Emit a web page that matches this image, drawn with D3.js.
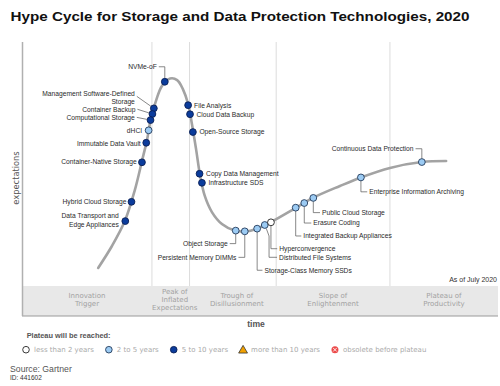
<!DOCTYPE html>
<html>
<head>
<meta charset="utf-8">
<script src="https://cdn.jsdelivr.net/npm/d3@7"></script>
<style>
  body { margin: 0; background: #fff; }
  svg { display: block; font-family: "Liberation Sans", Arial, sans-serif; }
</style>
</head>
<body>
<svg id="chart"></svg>
<script>
// ---- data (time 0-100, expectations 0-100) ----
const chartTitle = 'Hype Cycle for Storage and Data Protection Technologies, 2020';

const techNames = [
    'NVMe-oF', 'Management Software-Defined Storage', 'Container Backup', 'Computational Storage',
    'dHCI', 'Immutable Data Vault', 'Container-Native Storage', 'Hybrid Cloud Storage',
    'Data Transport and Edge Appliances', 'File Analysis', 'Cloud Data Backup', 'Open-Source Storage',
    'Copy Data Management', 'Infrastructure SDS', 'Object Storage', 'Persistent Memory DIMMs',
    'Storage-Class Memory SSDs', 'Distributed File Systems', 'Hyperconvergence',
    'Integrated Backup Appliances', 'Erasure Coding', 'Public Cloud Storage',
    'Enterprise Information Archiving', 'Continuous Data Protection'
];
const techTime   = [30.0, 27.7, 27.4, 27.0, 26.6, 26.1, 25.2, 23.0, 21.7, 34.9, 35.3, 35.9,
                    37.3, 37.8, 44.9, 46.8, 49.4, 51.0, 52.3, 57.5, 59.3, 61.2, 71.2, 84.0];
const techExpect = [83.7, 72.8, 70.5, 68.0, 63.8, 58.7, 50.7, 34.5, 26.6, 74.1, 70.4, 63.1,
                    46.0, 42.3, 22.7, 22.4, 23.5, 25.0, 26.1, 32.1, 34.0, 36.1, 44.5, 50.8];
// index into plateauKeys
const techPlateau = [2, 2, 2, 2, 1, 2, 2, 2, 2, 2, 2, 2, 2, 2, 1, 1, 1, 1, 0, 1, 1, 1, 1, 1];

const plateauKeys = ['less than 2 years', '2 to 5 years', '5 to 10 years', 'more than 10 years', 'obsolete before plateau'];

// the hype curve itself
const curveTime   = [16.0, 18.9, 21.6, 23.7, 25.2, 26.3, 27.1, 28.2, 29.4, 31.1, 32.6, 33.8, 34.9, 35.7, 36.6,
                     37.4, 38.4, 39.9, 42.0, 44.7, 46.8, 49.4, 52.3, 57.6, 61.1, 66.8, 71.2, 77.3, 84.0, 89.1];
const curveExpect = [7.4, 16.4, 26.6, 39.3, 51.2, 60.2, 68.9, 76.2, 82.0, 85.0, 84.4, 80.7, 74.6, 66.4, 55.7,
                     45.5, 36.9, 30.3, 25.4, 22.7, 22.3, 23.5, 26.2, 32.1, 36.1, 41.0, 44.5, 48.4, 50.8, 51.2];

const phaseEdges = [0, 27.3, 35.2, 53.4, 77.3, 100];
const phaseNames = [
    ['Innovation', 'Trigger'],
    ['Peak of', 'Inflated', 'Expectations'],
    ['Trough of', 'Disillusionment'],
    ['Slope of', 'Enlightenment'],
    ['Plateau of', 'Productivity']
];

// label placement (pixels relative to the dot)
const labelLayout = {
    'NVMe-oF': {dx: -8, dy: -15, anchor: 'end', leader: 'up'},
    'Management Software-Defined Storage': {dx: -19, dy: -15, anchor: 'end', lines: ['Management Software-Defined', 'Storage'], leader: 'diag', ldy: 3},
    'Container Backup': {dx: -17, dy: -4.7, anchor: 'end', leader: 'diag'},
    'Computational Storage': {dx: -15.7, dy: -2.7, anchor: 'end', leader: 'diag'},
    'dHCI': {dx: -6.5, dy: 0, anchor: 'end'},
    'Immutable Data Vault': {dx: -5.5, dy: 0.5, anchor: 'end'},
    'Container-Native Storage': {dx: -5.2, dy: -0.5, anchor: 'end'},
    'Hybrid Cloud Storage': {dx: -5, dy: 0, anchor: 'end'},
    'Data Transport and Edge Appliances': {dx: -6.5, dy: -5.3, anchor: 'end', lines: ['Data Transport and', 'Edge Appliances']},
    'File Analysis': {dx: 6, dy: 0},
    'Cloud Data Backup': {dx: 6.5, dy: 0},
    'Open-Source Storage': {dx: 6.5, dy: 0},
    'Copy Data Management': {dx: 6.5, dy: 0.3},
    'Infrastructure SDS': {dx: 6.5, dy: 0},
    'Object Storage': {dx: -8, dy: 13, anchor: 'end', leader: 'down'},
    'Persistent Memory DIMMs': {dx: -8.3, dy: 26, anchor: 'end', leader: 'down'},
    'Storage-Class Memory SSDs': {dx: 7.3, dy: 41.6, leader: 'down'},
    'Distributed File Systems': {dx: 14.3, dy: 32.3, leader: 'down', jog: [4.3, 11]},
    'Hyperconvergence': {dx: 8.3, dy: 26.4, leader: 'down'},
    'Integrated Backup Appliances': {dx: 7.6, dy: 28.3, leader: 'down'},
    'Erasure Coding': {dx: 9, dy: 20, leader: 'down'},
    'Public Cloud Storage': {dx: 8.7, dy: 14.7, leader: 'down'},
    'Enterprise Information Archiving': {dx: 8.3, dy: 14.4, leader: 'down'},
    'Continuous Data Protection': {dx: -8.3, dy: -13.3, anchor: 'end', leader: 'up'}
};

class HypeCycle {
    constructor(_config) {
        this.config = {
            parentElement: _config.parentElement,
            containerWidth: _config.containerWidth || 500,
            containerHeight: _config.containerHeight || 386,
            plot: {left: 22, right: 498, top: 42, bottom: 286},
            bandHeight: 30,
            r: 3.4
        };
        this.initVis();
    }

    initVis() {
        let vis = this;
        const p = vis.config.plot;

        vis.xScale = d3.scaleLinear().domain([0, 100]).range([p.left, p.right]);
        vis.yScale = d3.scaleLinear().domain([0, 100]).range([p.bottom, p.top]);

        vis.colorScale = d3.scaleOrdinal()
            .domain(plateauKeys)
            .range(['#ffffff', '#9ccbf3', '#0b3c9c', '#f2a100', '#ec4a4a']);
        vis.strokeScale = d3.scaleOrdinal()
            .domain(plateauKeys)
            .range(['#222', '#223a5a', '#0a1f55', '#333', '#d02020']);

        vis.svg = d3.select(vis.config.parentElement)
            .attr('width', vis.config.containerWidth)
            .attr('height', vis.config.containerHeight);

        // the source title is drawn a bit wide, so stretch it to the same span
        vis.svg.append('text')
            .attr('x', 10.5).attr('y', 20.7)
            .attr('font-size', 12.8).attr('font-weight', 'bold').attr('fill', '#111')
            .attr('textLength', 459).attr('lengthAdjust', 'spacingAndGlyphs')
            .text(chartTitle);

        vis.backG = vis.svg.append('g');
        vis.curveG = vis.svg.append('g');
        vis.leaderG = vis.svg.append('g');
        vis.dotG = vis.svg.append('g');
        vis.labelG = vis.svg.append('g');
        vis.legendG = vis.svg.append('g');
    }

    updateVis() {
        let vis = this;

        vis.curveData = curveTime.map((t, i) => ({t: t, e: curveExpect[i]}));
        vis.techData = techNames.map((n, i) => ({
            name: n,
            t: techTime[i],
            e: techExpect[i],
            plateau: plateauKeys[techPlateau[i]]
        }));

        vis.line = d3.line()
            .x(d => vis.xScale(d.t))
            .y(d => vis.yScale(d.e))
            .curve(d3.curveCatmullRom.alpha(0.5));

        vis.renderVis();
    }

    renderVis() {
        let vis = this;
        const p = vis.config.plot;
        const r = vis.config.r;
        const bandBottom = p.bottom + vis.config.bandHeight;

        // phase band
        vis.backG.append('rect')
            .attr('x', p.left).attr('y', p.bottom)
            .attr('width', p.right - p.left).attr('height', vis.config.bandHeight)
            .attr('fill', '#e8e8e8');
        vis.backG.append('line')
            .attr('x1', p.left).attr('x2', p.right)
            .attr('y1', bandBottom).attr('y2', bandBottom)
            .attr('stroke', '#9a9a9a').attr('stroke-width', 1);

        // phase separators
        vis.backG.selectAll('.sep')
            .data(phaseEdges.slice(1, -1))
            .join('line')
            .attr('class', 'sep')
            .attr('x1', d => vis.xScale(d)).attr('x2', d => vis.xScale(d))
            .attr('y1', vis.yScale(100)).attr('y2', vis.yScale(0))
            .attr('stroke', '#dcdcdc').attr('stroke-width', 1);

        // left axis
        vis.backG.append('line')
            .attr('x1', p.left + 0.5).attr('x2', p.left + 0.5)
            .attr('y1', p.top).attr('y2', bandBottom)
            .attr('stroke', '#b0b0b0').attr('stroke-width', 1.5);

        // phase names
        const shift = [0, 4, 4, 0, 0];
        phaseNames.forEach((lines, i) => {
            const cx = (vis.xScale(phaseEdges[i]) + vis.xScale(phaseEdges[i + 1])) / 2 + shift[i];
            const y0 = 300 - (lines.length - 1) * 4;
            lines.forEach((s, j) => {
                vis.backG.append('text')
                    .attr('x', cx).attr('y', y0 + j * 8).attr('dy', '0.35em')
                    .attr('text-anchor', 'middle')
                    .attr('font-family', '"DejaVu Sans", Verdana, sans-serif')
                    .attr('font-size', 7).attr('fill', '#a2a2a2')
                    .text(s);
            });
        });

        // axis titles
        vis.backG.append('text')
            .attr('transform', 'translate(16,178) rotate(-90)')
            .attr('dy', '0.35em').attr('text-anchor', 'middle')
            .attr('font-family', '"DejaVu Sans", Verdana, sans-serif')
            .attr('font-size', 8.3).attr('fill', '#555')
            .text('expectations');
        vis.backG.append('text')
            .attr('x', 256).attr('y', 324).attr('dy', '0.35em')
            .attr('text-anchor', 'middle')
            .attr('font-size', 8.6).attr('font-weight', 'bold').attr('fill', '#555')
            .text('time');
        vis.backG.append('text')
            .attr('x', 497).attr('y', 280).attr('dy', '0.35em')
            .attr('text-anchor', 'end')
            .attr('font-size', 7).attr('fill', '#333')
            .text('As of July 2020');

        // the curve
        vis.curveG.append('path')
            .datum(vis.curveData)
            .attr('d', vis.line)
            .attr('fill', 'none')
            .attr('stroke', '#a3a3a3')
            .attr('stroke-width', 2.6)
            .attr('stroke-linecap', 'round');

        // leaders
        const leaderPts = d => {
            const L = labelLayout[d.name];
            if (!L.leader) return null;
            const px = vis.xScale(d.t), py = vis.yScale(d.e);
            const lx = px + L.dx, ly = py + L.dy;
            const end = L.anchor === 'end';
            if (L.leader === 'up') {
                return [[lx + 2, ly], [px, ly], [px, py - r]];
            }
            if (L.leader === 'diag') {
                const sx = lx + 2, sy = ly + (L.ldy || 0);
                const a = Math.atan2(py - sy, px - sx);
                return [[sx, sy], [px - Math.cos(a) * (r + 0.3), py - Math.sin(a) * (r + 0.3)]];
            }
            if (L.jog) {
                return [[px + 1.5, py + r], [px + L.jog[0], py + L.jog[1]], [px + L.jog[0], ly], [lx - 2, ly]];
            }
            return [[px, py + r], [px, ly], [end ? lx + 2 : lx - 2, ly]];
        };

        vis.leaderG.selectAll('.leader')
            .data(vis.techData.filter(d => labelLayout[d.name].leader))
            .join('path')
            .attr('class', 'leader')
            .attr('d', d => d3.line()(leaderPts(d)))
            .attr('fill', 'none')
            .attr('stroke', '#555')
            .attr('stroke-width', 0.7);

        // dots
        vis.dotG.selectAll('.dot')
            .data(vis.techData)
            .join('circle')
            .attr('class', 'dot')
            .attr('cx', d => vis.xScale(d.t))
            .attr('cy', d => vis.yScale(d.e))
            .attr('r', r)
            .attr('fill', d => vis.colorScale(d.plateau))
            .attr('stroke', d => vis.strokeScale(d.plateau))
            .attr('stroke-width', 0.9);

        // labels
        vis.techData.forEach(d => {
            const L = labelLayout[d.name];
            const lines = L.lines || [d.name];
            const lx = vis.xScale(d.t) + L.dx, ly = vis.yScale(d.e) + L.dy;
            lines.forEach((s, j) => {
                vis.labelG.append('text')
                    .attr('x', lx).attr('y', ly + j * 8.4).attr('dy', '0.35em')
                    .attr('text-anchor', L.anchor || 'start')
                    .attr('font-size', 6.7).attr('fill', '#2a2a2a')
                    .text(s);
            });
        });

        // legend
        vis.legendG.append('text')
            .attr('x', 26.7).attr('y', 335).attr('dy', '0.35em')
            .attr('font-size', 7.4).attr('font-weight', 'bold').attr('fill', '#555')
            .text('Plateau will be reached:');

        let cx = 26;
        const ly = 349.7;
        plateauKeys.forEach((k, i) => {
            const g = vis.legendG.append('g').attr('transform', `translate(${cx},${ly})`);
            if (i < 3) {
                g.append('circle').attr('r', 3.3)
                    .attr('fill', vis.colorScale(k)).attr('stroke', vis.strokeScale(k)).attr('stroke-width', 0.9);
            } else if (i === 3) {
                g.append('path').attr('d', d3.symbol(d3.symbolTriangle, 34)())
                    .attr('transform', 'translate(0,0.8)')
                    .attr('fill', vis.colorScale(k)).attr('stroke', '#333').attr('stroke-width', 0.8);
            } else {
                g.append('circle').attr('r', 3.5).attr('fill', vis.colorScale(k));
                g.append('path').attr('d', 'M-1.8,-1.8L1.8,1.8M-1.8,1.8L1.8,-1.8')
                    .attr('stroke', '#fff').attr('stroke-width', 0.9);
            }
            const t = g.append('text')
                .attr('x', 8).attr('dy', '0.35em')
                .attr('font-family', '"DejaVu Sans", Verdana, sans-serif')
                .attr('font-size', 7).attr('fill', '#aaa')
                .text(k);
            cx += 8 + t.node().getComputedTextLength() + 15;
        });

        vis.legendG.append('text')
            .attr('x', 10).attr('y', 369).attr('dy', '0.35em')
            .attr('font-size', 8.7).attr('fill', '#555')
            .text('Source: Gartner');
        vis.legendG.append('text')
            .attr('x', 10).attr('y', 377.5).attr('dy', '0.35em')
            .attr('font-size', 6.5).attr('fill', '#333')
            .text('ID: 441602');
    }
}

const hype = new HypeCycle({parentElement: '#chart'});
hype.updateVis();
</script>
</body>
</html>
